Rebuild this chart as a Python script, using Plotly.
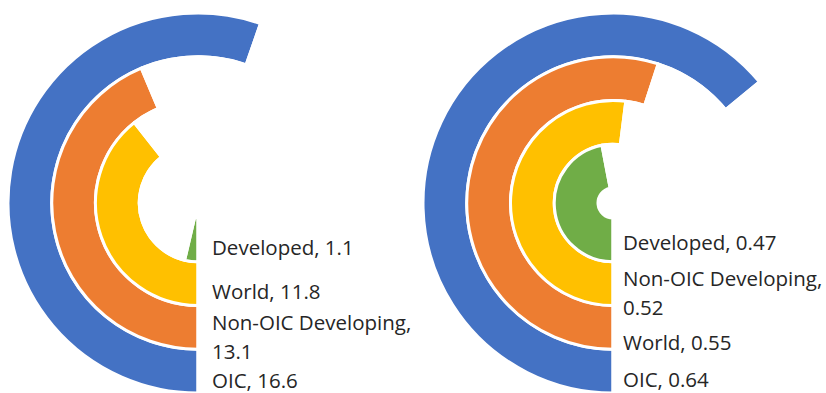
import plotly.graph_objects as go

# Rings listed from outermost to innermost
left_categories = ["OIC", "Non-OIC Developing", "World", "Developed"]
left_values = [16.6, 13.1, 11.8, 1.1]
left_full_scale = 30

right_categories = ["OIC", "World", "Non-OIC Developing", "Developed"]
right_values = [0.64, 0.55, 0.52, 0.47]
right_full_scale = 1.0

ring_colors = ["#4472C4", "#ED7D31", "#FFC000", "#70AD47"]

W, H = 826, 393
OUTER_R = 190.0
HOLE_R = 15.0
TEXT_COLOR = "#262626"
FONT = "Open Sans"
FONT_SIZE = 20.5


def value_text(v):
    return f"{v:g}"


def add_radial_bars(fig, cx, cy, categories, values, full_scale):
    band = (OUTER_R - HOLE_R) / len(values)
    for i, (cat, val) in enumerate(zip(categories, values)):
        r_out = OUTER_R - i * band
        r_in = r_out - band
        dom_x = [(cx - r_out) / W, (cx + r_out) / W]
        dom_y = [max(0.0, 1 - (cy + r_out) / H), min(1.0, 1 - (cy - r_out) / H)]
        fig.add_trace(go.Pie(
            values=[val, full_scale - val],
            labels=[cat, ""],
            sort=False,
            direction="clockwise",
            rotation=180,
            hole=r_in / r_out,
            domain=dict(x=dom_x, y=dom_y),
            marker=dict(colors=[ring_colors[i], "rgba(0,0,0,0)"],
                        line=dict(color="white", width=3)),
            textinfo="none",
            hoverinfo="label+value",
            showlegend=False,
        ))


def add_labels(fig, x_px, label_lines):
    # label_lines: list of (text, y center in px)
    for text, y_px in label_lines:
        fig.add_annotation(
            x=x_px / W, y=1 - y_px / H, xref="paper", yref="paper",
            text=text, showarrow=False, xanchor="left", yanchor="middle",
            font=dict(family=FONT, size=FONT_SIZE, color=TEXT_COLOR),
        )


fig = go.Figure()

# Left chart
LCX, LCY = 198, 203
add_radial_bars(fig, LCX, LCY, left_categories, left_values, left_full_scale)
lv = dict(zip(left_categories, left_values))
add_labels(fig, LCX + 12, [
    (f"Developed, {value_text(lv['Developed'])}", 247),
    (f"World, {value_text(lv['World'])}", 291),
    ("Non-OIC Developing,", 322),
    (value_text(lv["Non-OIC Developing"]), 351),
    (f"OIC, {value_text(lv['OIC'])}", 380),
])

# Right chart
RCX, RCY = 613, 203
add_radial_bars(fig, RCX, RCY, right_categories, right_values, right_full_scale)
rv = dict(zip(right_categories, right_values))
add_labels(fig, RCX + 8, [
    (f"Developed, {value_text(rv['Developed'])}", 242),
    ("Non-OIC Developing,", 278),
    (value_text(rv["Non-OIC Developing"]), 307),
    (f"World, {value_text(rv['World'])}", 342),
    (f"OIC, {value_text(rv['OIC'])}", 379),
])

fig.update_layout(
    width=W, height=H,
    margin=dict(l=0, r=0, t=0, b=0),
    paper_bgcolor="white",
    plot_bgcolor="white",
    showlegend=False,
)

fig.write_html("out.html")
